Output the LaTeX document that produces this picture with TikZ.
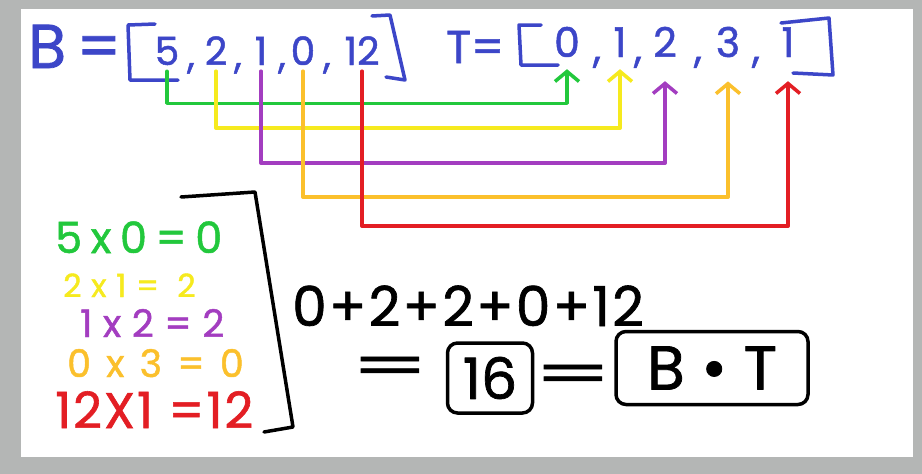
\documentclass[tikz,border=0pt]{standalone}
\usepackage{fontspec}
\setmainfont{Poppins}[FakeBold=1.2]
\usepackage{tikz}
\usetikzlibrary{arrows.meta,positioning}
\usepackage{xcolor}
\definecolor{PenBlue}{HTML}{3C46C8}
\definecolor{PenGreen}{HTML}{22C83C}
\definecolor{PenYellow}{HTML}{F6EA1E}
\definecolor{PenPurple}{HTML}{A33DC0}
\definecolor{PenOrange}{HTML}{FBC02C}
\definecolor{PenRed}{HTML}{E31E24}
\definecolor{BoardGrey}{HTML}{B4B6B5}
\newcommand{\fsz}[2]{\fontsize{#2}{#2}\selectfont\addfontfeatures{LetterSpace=#1}}

\begin{document}
\begin{tikzpicture}[x=1pt, y=-1pt,
    pen/.style={line width=3.5pt, line cap=round, line join=round},
    ink/.style={inner sep=0pt, anchor=base},
    link/.style={pen, -{Straight Barb[length=10pt,width=24pt]}, shorten <=6pt}]
        \fill[BoardGrey] (0,0) rectangle (922,474);
        \fill[white] (21,9) rectangle (913,457);
        % the two vectors
        \node[ink,anchor=base west,PenBlue,font=\fsz{0}{62}] (bname) at (28,68) {B\,=};
        \draw[pen,PenBlue] (155,24) -- (128,25) -- (130,80) -- (178,80);
        \draw[pen,PenBlue] (372,16) -- (390,15) -- (405,80) -- (386,77);
        \foreach \v/\x [count=\i] in {5/167,2/216,1/261,0/303,12/362}
          \node[ink,PenBlue,font=\fsz{0}{39}] (b\i) at (\x,65) {\v};
        \foreach \x [count=\i] in {191,238,282,327}
          \node[ink,PenBlue,font=\fsz{0}{39}] (bc\i) at (\x,68) {,};
        \node[ink,anchor=base west,PenBlue,font=\fsz{0}{46}] (tname) at (446,63) {T=};
        \draw[pen,PenBlue] (541,25) -- (519,25) -- (521,65) -- (558,65);
        \draw[pen,PenBlue] (781,23) -- (829,18) -- (833,75) -- (793,73);
        \foreach \v/\x [count=\i] in {0/567,1/620,2/665,3/728,1/788}
          \node[ink,PenBlue,font=\fsz{0}{41}] (t\i) at (\x,57) {\v};
        \foreach \x [count=\i] in {597,638,698,756}
          \node[ink,PenBlue,font=\fsz{0}{41}] (tc\i) at (\x,62) {,};
        % matching entries
        \foreach \i/\c/\d/\g in {1/PenGreen/38/12,2/PenYellow/63/12,3/PenPurple/98/24,4/PenOrange/132/24,5/PenRed/161/24}
          \draw[link,\c,shorten >=\g pt] (b\i.south) -- ++(0,\d) -| (t\i.south);
        % products
        \node[ink,anchor=base west,PenGreen,font=\fsz{20}{43}] (pgreen) at (55,253) {5x0=0};
        \node[ink,anchor=base west,PenYellow,font=\fsz{30}{32}] (pyellow) at (63,297) {2x1= 2};
        \node[ink,anchor=base west,PenPurple,font=\fsz{28}{38}] (ppurple) at (80,337) {1x2=2};
        \node[ink,anchor=base west,PenOrange,font=\fsz{40}{38}] (porange) at (67,377) {0x3=0};
        \node[ink,anchor=base west,PenRed,font=\fsz{4}{50}] (pred) at (55,428) {12X1 =12};
        \draw[pen] (181,197) -- (255,192) -- (293,427) -- (264,432);
        % sum
        \node[ink,anchor=base west,font=\fsz{4}{55}] (sum) at (292,326) {0+2+2+0+12};
        \node[ink,font=\fsz{0}{55}] (eqa) at (390,385) {\scalebox{2}[1]{=}};
        \node[draw,pen,rounded corners=10pt,minimum width=85pt,minimum height=70pt,font=\fsz{0}{57}] (total) at (490,378) {16};
        \node[ink,font=\fsz{0}{55}] (eqb) at (573,393) {\scalebox{2}[1]{=}};
        \node[draw,pen,rounded corners=10pt,minimum width=192pt,minimum height=73pt,font=\fsz{0}{62}] (dot) at (712,368) {B • T};
      \end{tikzpicture}
\end{document}
